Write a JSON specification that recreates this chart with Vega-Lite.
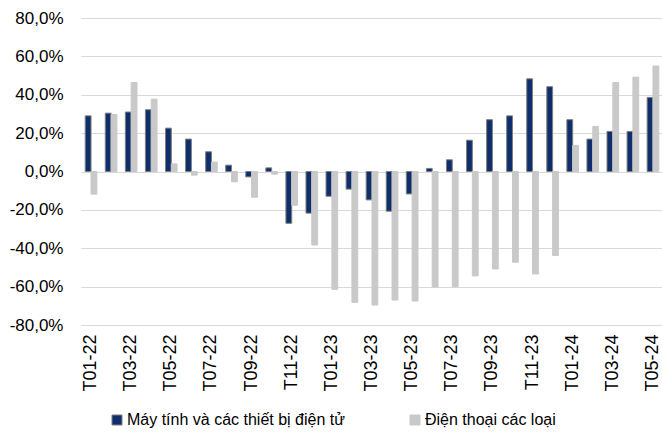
{
  "$schema": "https://vega.github.io/schema/vega-lite/v6.json",
  "width": 582,
  "height": 307,
  "autosize": {"type": "none"},
  "padding": {"left": 81, "top": 18, "right": 0, "bottom": 112},
  "background": "white",
  "data": {
    "values": [
      {"month": "T01-22", "Máy tính và các thiết bị điện tử": 29.0, "Điện thoại các loại": -11.8},
      {"month": "T02-22", "Máy tính và các thiết bị điện tử": 30.4, "Điện thoại các loại": 29.7},
      {"month": "T03-22", "Máy tính và các thiết bị điện tử": 31.0, "Điện thoại các loại": 46.4},
      {"month": "T04-22", "Máy tính và các thiết bị điện tử": 32.2, "Điện thoại các loại": 37.7},
      {"month": "T05-22", "Máy tính và các thiết bị điện tử": 22.6, "Điện thoại các loại": 4.0},
      {"month": "T06-22", "Máy tính và các thiết bị điện tử": 16.9, "Điện thoại các loại": -1.9},
      {"month": "T07-22", "Máy tính và các thiết bị điện tử": 10.3, "Điện thoại các loại": 4.9},
      {"month": "T08-22", "Máy tính và các thiết bị điện tử": 3.3, "Điện thoại các loại": -5.4},
      {"month": "T09-22", "Máy tính và các thiết bị điện tử": -2.8, "Điện thoại các loại": -13.4},
      {"month": "T10-22", "Máy tính và các thiết bị điện tử": 1.9, "Điện thoại các loại": -1.4},
      {"month": "T11-22", "Máy tính và các thiết bị điện tử": -27.0, "Điện thoại các loại": -17.6},
      {"month": "T12-22", "Máy tính và các thiết bị điện tử": -21.7, "Điện thoại các loại": -38.3},
      {"month": "T01-23", "Máy tính và các thiết bị điện tử": -12.9, "Điện thoại các loại": -61.4},
      {"month": "T02-23", "Máy tính và các thiết bị điện tử": -9.2, "Điện thoại các loại": -68.2},
      {"month": "T03-23", "Máy tính và các thiết bị điện tử": -14.8, "Điện thoại các loại": -69.6},
      {"month": "T04-23", "Máy tính và các thiết bị điện tử": -20.7, "Điện thoại các loại": -67.0},
      {"month": "T05-23", "Máy tính và các thiết bị điện tử": -11.7, "Điện thoại các loại": -67.5},
      {"month": "T06-23", "Máy tính và các thiết bị điện tử": 1.6, "Điện thoại các loại": -60.2},
      {"month": "T07-23", "Máy tính và các thiết bị điện tử": 6.1, "Điện thoại các loại": -60.0},
      {"month": "T08-23", "Máy tính và các thiết bị điện tử": 16.3, "Điện thoại các loại": -54.4},
      {"month": "T09-23", "Máy tính và các thiết bị điện tử": 27.0, "Điện thoại các loại": -50.8},
      {"month": "T10-23", "Máy tính và các thiết bị điện tử": 29.0, "Điện thoại các loại": -47.3},
      {"month": "T11-23", "Máy tính và các thiết bị điện tử": 48.3, "Điện thoại các loại": -53.4},
      {"month": "T12-23", "Máy tính và các thiết bị điện tử": 44.2, "Điện thoại các loại": -43.8},
      {"month": "T01-24", "Máy tính và các thiết bị điện tử": 27.0, "Điện thoại các loại": 13.6},
      {"month": "T02-24", "Máy tính và các thiết bị điện tử": 16.9, "Điện thoại các loại": 23.5},
      {"month": "T03-24", "Máy tính và các thiết bị điện tử": 20.9, "Điện thoại các loại": 46.4},
      {"month": "T04-24", "Máy tính và các thiết bị điện tử": 20.9, "Điện thoại các loại": 49.2},
      {"month": "T05-24", "Máy tính và các thiết bị điện tử": 38.6, "Điện thoại các loại": 55.0}
    ]
  },
  "transform": [
    {"fold": ["Máy tính và các thiết bị điện tử", "Điện thoại các loại"], "as": ["series", "value"]}
  ],
  "mark": {"type": "bar", "strokeWidth": 1},
  "encoding": {
    "x": {
      "field": "month",
      "type": "nominal",
      "sort": null,
      "scale": {"paddingInner": 0.42, "paddingOuter": 0.21},
      "axis": {
        "title": null,
        "values": ["T01-22", "T03-22", "T05-22", "T07-22", "T09-22", "T11-22", "T01-23", "T03-23", "T05-23", "T07-23", "T09-23", "T11-23", "T01-24", "T03-24", "T05-24"],
        "labelAngle": -90,
        "labelAlign": "right",
        "labelBaseline": "middle",
        "labelPadding": 9,
        "labelFont": "Liberation Sans",
        "labelFontSize": 18,
        "labelColor": "#000000",
        "ticks": false,
        "domain": false,
        "grid": false
      }
    },
    "xOffset": {
      "field": "series",
      "type": "nominal",
      "sort": ["Máy tính và các thiết bị điện tử", "Điện thoại các loại"],
      "scale": {"paddingInner": 0, "paddingOuter": 0}
    },
    "y": {
      "field": "value",
      "type": "quantitative",
      "scale": {"domain": [-80, 80], "nice": false},
      "axis": {
        "title": null,
        "values": [-80, -60, -40, -20, 0, 20, 40, 60, 80],
        "labelExpr": "replace(replace(format(datum.value / 100, '.1%'), '.', ','), '\u2212', '-')",
        "labelFont": "Liberation Sans",
        "labelFontSize": 17,
        "labelColor": "#000000",
        "labelPadding": 18,
        "ticks": false,
        "domain": false,
        "grid": true,
        "gridColor": "#D9D9D9",
        "gridWidth": 1
      }
    },
    "color": {
      "field": "series",
      "type": "nominal",
      "sort": ["Máy tính và các thiết bị điện tử", "Điện thoại các loại"],
      "scale": {"domain": ["Máy tính và các thiết bị điện tử", "Điện thoại các loại"], "range": ["#0E2F6B", "#C9C9C9"]},
      "legend": {
        "orient": "none",
        "legendX": 28,
        "legendY": 394,
        "direction": "horizontal",
        "title": null,
        "padding": 0,
        "symbolType": "square",
        "symbolSize": 100,
        "symbolStrokeWidth": 1,
        "labelFont": "Liberation Sans",
        "labelFontSize": 16,
        "labelColor": "#000000",
        "labelLimit": 0,
        "labelOffset": 2,
        "columnPadding": 62
      }
    },
    "stroke": {
      "field": "series",
      "type": "nominal",
      "sort": ["Máy tính và các thiết bị điện tử", "Điện thoại các loại"],
      "scale": {"domain": ["Máy tính và các thiết bị điện tử", "Điện thoại các loại"], "range": ["#7F7F7F", "#C9C9C9"]}
    }
  },
  "config": {"view": {"stroke": null}}
}
